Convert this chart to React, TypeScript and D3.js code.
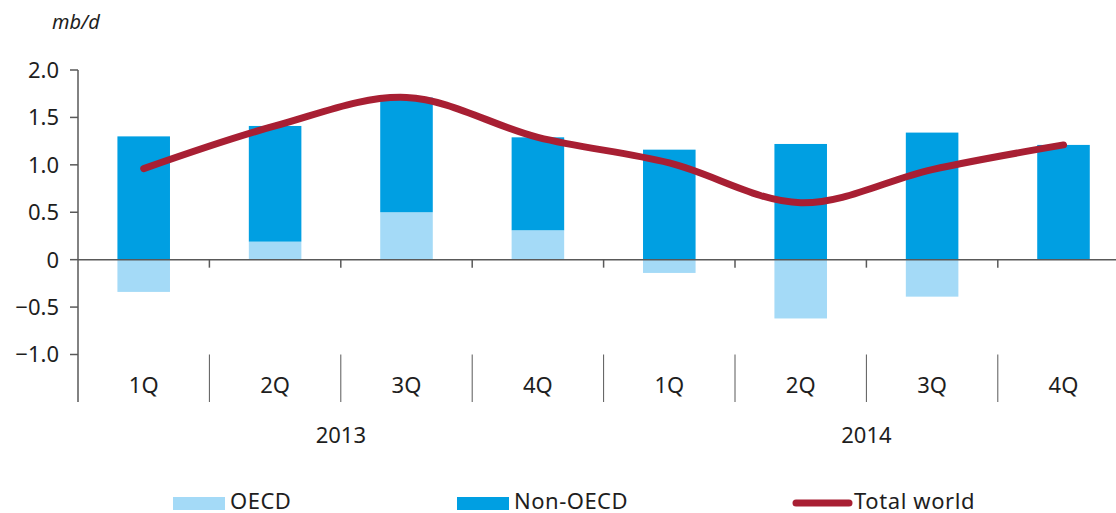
import React from "react";
import * as d3 from "d3";

const quarters = ["1Q", "2Q", "3Q", "4Q", "1Q", "2Q", "3Q", "4Q"];
const years = ["2013", "2014"];
const oecd = [-0.34, 0.19, 0.5, 0.31, -0.14, -0.62, -0.39, 0.0];
const nonOecd = [1.3, 1.22, 1.21, 0.98, 1.16, 1.22, 1.34, 1.21];
const totalWorld = [0.96, 1.41, 1.71, 1.29, 1.02, 0.6, 0.95, 1.21];
const yTicks = [2.0, 1.5, 1.0, 0.5, 0, -0.5, -1.0];

const W = 1116;
const H = 513;
const FONT = "'Noto Sans', sans-serif";
const C_OECD = "#a4daf7";
const C_NON = "#009fe2";
const C_TOT = "#a81f33";
const AX = "#595959";
const TXT = "#1e1e1e";
const FS = 22;

export default function App() {
  const x0 = 78;
  const bw = 131.4;
  const idx = quarters.map((_, i) => i);
  const x = d3.scaleBand<number>().domain(idx).range([x0, x0 + bw * quarters.length]).paddingInner(0).paddingOuter(0);
  const y = d3.scaleLinear().domain([-1, 2]).range([354.5, 70]);
  const barW = x.bandwidth() * 0.4;
  const cx = (i: number) => (x(i) as number) + x.bandwidth() / 2;

  const line = d3
    .line<number>()
    .x((_, i) => cx(i))
    .y((d) => y(d))
    .curve(d3.curveCardinal.tension(0));

  const fmt = (v: number) => (v === 0 ? "0" : (v < 0 ? "\u2212" : "") + Math.abs(v).toFixed(1));

  return (
    <svg width={W} height={H} style={{ position: "absolute", left: 0, top: 0 }} fontFamily={FONT}>
      <rect width={W} height={H} fill="#fff" />
      <text x={52} y={29} fontSize={20} fontStyle="italic" fill={TXT}>mb/d</text>

      {/* bars */}
      {idx.map((i) => {
        const o = oecd[i];
        const n = nonOecd[i];
        const left = cx(i) - barW / 2;
        const nonBase = o > 0 ? o : 0;
        return (
          <g key={i}>
            {o !== 0 && (
              <rect x={left} width={barW} y={y(Math.max(o, 0))} height={Math.abs(y(o) - y(0))} fill={C_OECD} />
            )}
            <rect x={left} width={barW} y={y(nonBase + n)} height={y(nonBase) - y(nonBase + n)} fill={C_NON} />
          </g>
        );
      })}

      {/* zero line and ticks */}
      <line x1={x0} x2={W} y1={y(0)} y2={y(0)} stroke={AX} strokeWidth={1.5} />
      {idx.slice(1).map((i) => (
        <line key={i} x1={x(i)} x2={x(i)} y1={y(0)} y2={y(0) + 8} stroke={AX} strokeWidth={1.5} />
      ))}

      {/* y axis */}
      <line x1={x0} x2={x0} y1={y(2)} y2={402} stroke={AX} strokeWidth={1.5} />
      {yTicks.map((t) => (
        <g key={t}>
          <line x1={x0 - 8} x2={x0} y1={y(t)} y2={y(t)} stroke={AX} strokeWidth={1.5} />
          <text x={59} y={y(t)} dy="0.36em" textAnchor="end" fontSize={FS} fill={TXT}>{fmt(t)}</text>
        </g>
      ))}

      {/* category separators */}
      {idx.slice(1).map((i) => (
        <line key={"s" + i} x1={x(i)} x2={x(i)} y1={y(-1)} y2={402} stroke={AX} strokeWidth={1} />
      ))}
      {idx.map((i) => (
        <text key={"q" + i} x={cx(i)} y={385} dy="0.36em" textAnchor="middle" fontSize={FS} fill={TXT}>
          {quarters[i]}
        </text>
      ))}
      {years.map((yr, k) => (
        <text key={yr} x={x0 + bw * (2 + 4 * k)} y={435} dy="0.36em" textAnchor="middle" fontSize={FS} fill={TXT}>
          {yr}
        </text>
      ))}

      {/* total line */}
      <path d={line(totalWorld) as string} fill="none" stroke={C_TOT} strokeWidth={7} strokeLinecap="round" />

      {/* legend */}
      <rect x={173} y={497} width={52} height={13} fill={C_OECD} />
      <text x={230} y={509} fontSize={FS} letterSpacing={0.5} fill={TXT}>OECD</text>
      <rect x={457} y={497} width={52} height={13} fill={C_NON} />
      <text x={514} y={509} fontSize={FS} letterSpacing={0.5} fill={TXT}>Non-OECD</text>
      <line x1={796} x2={849} y1={503} y2={503} stroke={C_TOT} strokeWidth={7} strokeLinecap="round" />
      <text x={854} y={509} fontSize={FS} letterSpacing={0.6} fill={TXT}>Total world</text>
    </svg>
  );
}
